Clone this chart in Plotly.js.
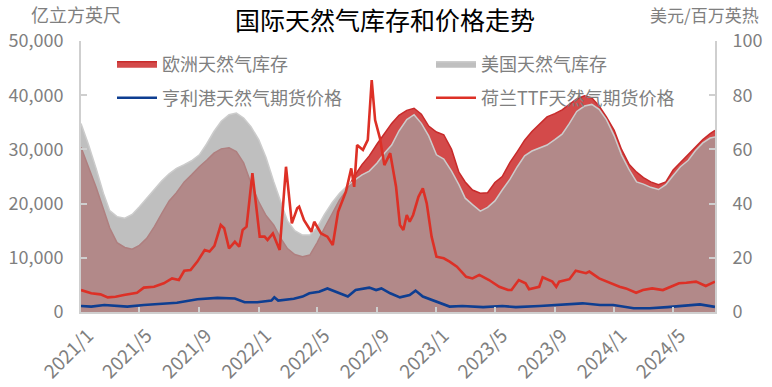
<!DOCTYPE html>
<html><head><meta charset="utf-8">
<script src="https://cdn.plot.ly/plotly-3.0.1.min.js"></script>
<style>html,body{margin:0;padding:0;background:#fff;}#chart{width:772px;height:387px;}</style>
</head><body><div id="chart"></div>
<script>
// ---- tick labels ----
const tickDates = ['2021-01-01','2021-05-01','2021-09-01','2022-01-01','2022-05-01','2022-09-01','2023-01-01','2023-05-01','2023-09-01','2024-01-01','2024-05-01'];
const tickLabels = ['2021/1','2021/5','2021/9','2022/1','2022/5','2022/9','2023/1','2023/5','2023/9','2024/1','2024/5'];

// ---- storage dates (1st and 16th of each month, 2021/1 - 2024/7) ----
const storageDates = [];
for (let i = 0; i < 86; i++) {
  const mi = Math.floor(i / 2);
  const y = 2021 + Math.floor(mi / 12);
  const m = (mi % 12) + 1;
  storageDates.push(y + '-' + String(m).padStart(2, '0') + (i % 2 ? '-16' : '-01'));
}
storageDates.push('2024-07-26');

// 欧洲天然气库存 (亿立方英尺)
const euStorage = [30400,27000,23000,19000,15500,12800,11900,11600,12300,13600,
  15800,18200,20500,22000,24000,25300,26800,28000,29300,30100,
  30300,29600,27500,23800,20300,17800,16000,13500,11700,10600,
  10200,10500,12800,15500,18300,20700,22500,25000,27200,28800,
  31000,32800,34800,36300,37200,37600,36500,34300,33200,32700,
  30000,25800,24000,22500,21900,22000,23900,25000,27600,29600,
  31700,33300,34600,36000,36600,37300,38300,39300,39900,39500,
  38000,36000,33500,30000,27200,25800,24800,24000,23500,24000,
  26200,27600,29000,30500,31800,32900,33500];

// 美国天然气库存 (亿立方英尺)
const usStorage = [34800,31000,26500,21900,18700,17600,17300,18000,19400,21000,
  22800,24200,25500,26500,27200,27900,29000,31000,33300,35200,
  36400,36700,35800,34200,31800,28500,24000,20300,16800,15000,
  14200,14200,15600,18000,20200,21900,23200,24300,25300,26000,
  27500,29300,30800,33400,35500,36400,34800,32500,29000,28200,
  26000,23500,21000,19800,18600,19300,20500,22500,24500,26800,
  28800,29700,30200,30800,31800,32800,34800,37000,38000,38300,
  37400,35500,32500,29000,26200,24000,23600,23000,22600,23500,
  25200,26800,28000,29800,31200,32100,32300];

// 荷兰TTF天然气期货价格 (美元/百万英热)
const ttfDates = ['2021-01-01','2021-01-22','2021-02-10','2021-02-25','2021-03-13','2021-03-30','2021-04-26','2021-05-10','2021-05-31','2021-06-20',
  '2021-07-07','2021-07-21','2021-08-01','2021-08-14','2021-08-28','2021-09-12','2021-09-22','2021-10-02','2021-10-15','2021-10-22',
  '2021-11-01','2021-11-13','2021-11-22','2021-11-29','2021-12-07','2021-12-19','2022-01-03','2022-01-13','2022-01-19','2022-01-30',
  '2022-02-13','2022-02-26','2022-03-10','2022-03-21','2022-03-25','2022-04-04','2022-04-19','2022-04-25','2022-05-09','2022-05-22',
  '2022-06-02','2022-06-13','2022-06-29','2022-07-10','2022-07-16','2022-07-22','2022-08-03','2022-08-13','2022-08-21','2022-08-28',
  '2022-09-07','2022-09-16','2022-09-28','2022-10-10','2022-10-18','2022-10-25','2022-11-01','2022-11-07','2022-11-14','2022-11-25',
  '2022-12-04','2022-12-12','2022-12-22','2023-01-01','2023-01-16','2023-01-28','2023-02-12','2023-03-03','2023-03-16','2023-03-30',
  '2023-04-19','2023-05-10','2023-05-28','2023-06-04','2023-06-19','2023-07-03','2023-07-10','2023-07-31','2023-08-07','2023-08-27',
  '2023-09-04','2023-09-10','2023-10-01','2023-10-14','2023-11-04','2023-11-11','2023-12-01','2023-12-22','2024-01-12','2024-01-25',
  '2024-02-15','2024-02-29','2024-03-19','2024-04-10','2024-04-23','2024-05-13','2024-05-28','2024-06-17','2024-07-07','2024-07-26'];
const ttfPrice = [8.1,6.9,6.5,5.4,5.6,6.3,7.1,9.0,9.3,10.6,
  12.4,11.8,15.2,15.5,18.6,22.9,22.3,24.4,32.1,30.9,
  23.5,25.9,24.1,30.3,31.5,51.2,27.8,27.8,26.6,29.0,
  22.9,53.6,32.7,38.3,38.9,33.9,29.6,33.3,29.0,27.8,
  24.7,37.0,44.4,53.0,46.2,61.6,59.8,63.5,85.6,70.8,
  64.1,54.2,58.6,46.2,32.1,30.3,35.8,33.3,35.8,42.5,
  45.6,40.1,27.8,20.4,19.8,18.6,16.7,13.0,12.4,13.7,
  11.8,9.3,8.1,8.1,11.8,10.6,8.4,9.3,12.8,11.2,
  9.3,11.2,12.1,15.2,14.3,14.9,12.4,10.8,9.3,8.7,
  7.1,8.1,8.7,8.1,9.1,10.6,10.8,11.2,9.6,11.2];

// 亨利港天然气期货价格 (美元/百万英热)
const hhDates = ['2021-01-01','2021-01-22','2021-02-18','2021-04-06','2021-05-10','2021-06-20','2021-07-17','2021-08-28','2021-10-08','2021-11-13',
  '2021-12-03','2021-12-29','2022-01-27','2022-02-02','2022-02-10','2022-03-14','2022-04-01','2022-04-15','2022-05-05','2022-05-22',
  '2022-06-09','2022-07-03','2022-07-19','2022-08-16','2022-08-30','2022-09-10','2022-09-28','2022-10-18','2022-11-07','2022-11-19',
  '2022-12-04','2022-12-19','2023-01-09','2023-01-28','2023-02-23','2023-04-07','2023-05-16','2023-06-13','2023-08-01','2023-09-25',
  '2023-10-28','2023-12-03','2023-12-30','2024-02-10','2024-03-14','2024-04-19','2024-05-28','2024-06-25','2024-07-26'];
const hhPrice = [2.2,2.0,2.6,2.0,2.6,3.0,3.4,4.7,5.2,5.0,
  3.6,3.6,4.2,5.4,4.2,4.9,5.7,6.9,7.5,8.7,
  7.5,5.7,8.1,9.0,8.1,8.7,6.9,5.4,6.3,7.9,
  5.7,4.7,3.4,2.0,2.2,1.8,2.2,1.8,2.2,2.8,
  3.2,2.6,2.6,1.4,1.4,1.8,2.4,2.8,1.9];

const FONT = "'Noto Sans CJK SC', 'Noto Sans', sans-serif";
const GREY = '#7f7f7f';
const AXIS = '#cfcfcf';

const traces = [
  {name: '欧洲天然气库存', x: storageDates, y: euStorage, type: 'scatter', mode: 'lines',
   fill: 'tozeroy', fillcolor: 'rgb(211,74,74)', line: {color: 'rgb(200,42,42)', width: 1.5},
   legend: 'legend'},
  {name: '美国天然气库存', x: storageDates, y: usStorage, type: 'scatter', mode: 'lines',
   fill: 'tozeroy', fillcolor: 'rgba(164,164,164,0.7)', line: {color: 'rgb(204,204,204)', width: 1.5},
   legend: 'legend3'},
  {name: '亨利港天然气期货价格', x: hhDates, y: hhPrice, yaxis: 'y2', type: 'scatter', mode: 'lines',
   line: {color: 'rgb(14,62,145)', width: 2.6}, legend: 'legend2'},
  {name: '荷兰TTF天然气期货价格', x: ttfDates, y: ttfPrice, yaxis: 'y2', type: 'scatter', mode: 'lines',
   line: {color: 'rgb(221,48,38)', width: 2.6}, legend: 'legend4'}
];

const W = 772, H = 387;
// plot area in pixels: x 81..715, y 41..312
const PX = v => (v - 81) / 634;
const PY = v => (312 - v) / 271;
function lg(px, py) {
  return {x: PX(px), y: PY(py), xref: 'paper', yref: 'paper', xanchor: 'left', yanchor: 'middle',
    bgcolor: 'rgba(0,0,0,0)', borderwidth: 0, itemwidth: 40, font: {family: FONT, size: 18, color: GREY}};
}

const layout = {
  width: W, height: H,
  margin: {l: 81, r: 57, t: 41, b: 75, autoexpand: false},
  paper_bgcolor: '#ffffff', plot_bgcolor: '#ffffff',
  font: {family: FONT, color: GREY},
  showlegend: true,
  title: {text: '国际天然气库存和价格走势', font: {family: FONT, size: 25, color: '#000000'},
    x: 385 / W, xref: 'container', xanchor: 'center', y: 1 - 21 / H, yref: 'container', yanchor: 'middle'},
  xaxis: {type: 'date', range: ['2021-01-01', '2024-07-26'], tickvals: tickDates, ticktext: tickLabels,
    tickangle: -45, ticks: 'inside', ticklen: 5, tickwidth: 2, tickcolor: AXIS,
    showline: true, linecolor: AXIS, linewidth: 2, showgrid: false, zeroline: false, automargin: false,
    ticklabelstandoff: 3, ticklabelshift: 7,
    tickfont: {family: FONT, size: 19, color: GREY}},
  yaxis: {range: [0, 50000], tickvals: [0, 10000, 20000, 30000, 40000, 50000], tickformat: ',',
    ticks: 'inside', ticklen: 6, tickwidth: 2, tickcolor: AXIS, showline: true, linecolor: AXIS, linewidth: 2,
    showgrid: false, zeroline: false, automargin: false, ticklabelstandoff: 12, tickfont: {family: FONT, size: 18, color: GREY}},
  yaxis2: {range: [0, 100], tickvals: [0, 20, 40, 60, 80, 100], overlaying: 'y', side: 'right',
    ticks: 'inside', ticklen: 6, tickwidth: 2, tickcolor: AXIS, showline: true, linecolor: AXIS, linewidth: 2,
    showgrid: false, zeroline: false, automargin: false, ticklabelstandoff: 12, tickfont: {family: FONT, size: 18, color: GREY}},
  legend: lg(112, 64),
  legend2: lg(112, 98),
  legend3: lg(431, 64),
  legend4: lg(431, 98),
  annotations: [
    {text: '亿立方英尺', xref: 'paper', yref: 'paper', x: PX(75.5), y: PY(14),
     xanchor: 'center', yanchor: 'middle', showarrow: false, font: {family: FONT, size: 18, color: GREY}},
    {text: '美元/百万英热', xref: 'paper', yref: 'paper', x: PX(648), y: PY(14),
     xanchor: 'left', yanchor: 'middle', showarrow: false, font: {family: FONT, size: 17, color: GREY}}
  ]
};

Plotly.newPlot('chart', traces, layout, {displayModeBar: false, staticPlot: true});
</script>
</body></html>
